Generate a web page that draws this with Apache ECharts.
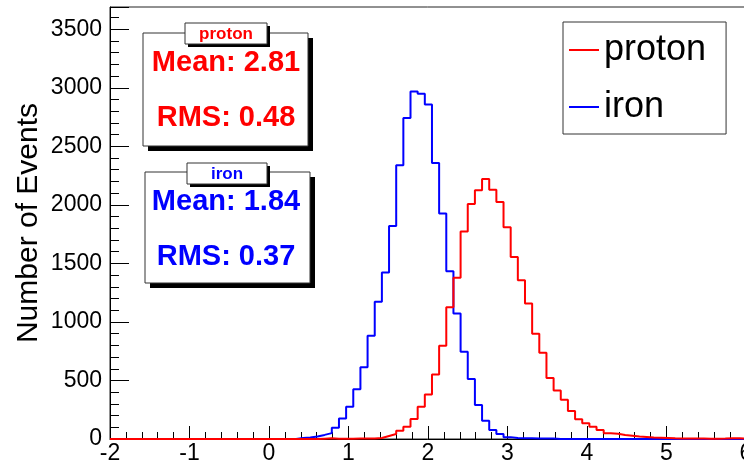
<!DOCTYPE html>
<html>
<head>
<meta charset="utf-8">
<script src="https://cdn.jsdelivr.net/npm/echarts@6/dist/echarts.min.js"></script>
<style>html,body{margin:0;padding:0;background:#fff}#c{width:744px;height:469px}</style>
</head>
<body>
<div id="c"></div>
<script>
// Histogram definition: 100 bins from -2 to 7 (bin width 0.09)
const binLow = -2;
const binWidth = 0.09;
const xTicks = [-2, -1, 0, 1, 2, 3, 4, 5, 6];
const yTicks = [0, 500, 1000, 1500, 2000, 2500, 3000, 3500];

// counts per bin, bins 0..99
const ironCounts = [
  0,0,0,0,0,0,0,0,0,0,
  0,0,0,0,0,0,0,0,0,0,
  0,0,0,0,0,0,8,12,22,35,
  50,97,176,276,424,612,882,1172,1422,1820,
  2338,2742,2969,2950,2858,2358,1926,1433,1072,745,
  512,290,156,77,43,16,8,7,6,5,
  5,4,1,1,0,0,0,0,0,0,
  0,0,0,0,0,0,0,0,0,0,
  0,0,0,0,0,0,0,0,0,0,
  0,0,0,0,0,0,0,0,0,0
];
const protonCounts = [
  0,0,0,0,0,0,0,0,0,0,
  0,0,0,0,0,0,0,0,0,0,
  0,0,0,0,0,0,0,0,0,3,
  6,2,3,3,4,5,4,8,25,42,
  70,105,170,276,380,550,796,1126,1377,1772,
  2008,2125,2221,2130,2025,1808,1555,1355,1158,898,
  737,522,415,336,240,168,134,105,77,49,
  45,34,28,22,18,12,10,8,6,5,
  5,4,4,3,3,4,7,6,3,2,
  2,1,1,1,1,1,1,1,1,1
];

const statsProton = { title: 'proton', mean: '2.81', rms: '0.48' };
const statsIron = { title: 'iron', mean: '1.84', rms: '0.37' };

function toSteps(counts) {
  const pts = counts.map((c, i) => [binLow + i * binWidth, c]);
  pts.push([binLow + counts.length * binWidth, counts[counts.length - 1]]);
  return pts;
}

const FONT = '"Liberation Sans", Arial, Helvetica, sans-serif';
const RED = '#ff0000', BLUE = '#0000ff';

function statsBox(x, y, w, h, tx, ty, tw, th, st, color, meanY, rmsY) {
  return [
    { type: 'rect', shape: { x: x + 5, y: y + 5, width: w, height: h }, style: { fill: '#000' }, z: 100 },
    { type: 'rect', shape: { x: x, y: y, width: w, height: h }, style: { fill: '#fff', stroke: '#333', lineWidth: 1 }, z: 101 },
    { type: 'rect', shape: { x: tx + 3, y: ty + 3, width: tw, height: th }, style: { fill: '#000' }, z: 102 },
    { type: 'rect', shape: { x: tx, y: ty, width: tw, height: th }, style: { fill: '#fff', stroke: '#333', lineWidth: 1 }, z: 103 },
    { type: 'text', z: 104, style: { text: st.title, x: tx + tw / 2, y: ty + th / 2 + 1, align: 'center', verticalAlign: 'middle', fill: color, font: 'bold 17px ' + FONT } },
    { type: 'text', z: 104, style: { text: 'Mean: ' + st.mean, x: 226, y: meanY, align: 'center', verticalAlign: 'middle', fill: color, font: 'bold 29px ' + FONT } },
    { type: 'text', z: 104, style: { text: 'RMS: ' + st.rms, x: 226, y: rmsY, align: 'center', verticalAlign: 'middle', fill: color, font: 'bold 29px ' + FONT } }
  ];
}

const chart = echarts.init(document.getElementById('c'), null, { renderer: 'canvas' });
chart.setOption({
  animation: false,
  backgroundColor: '#fff',
  grid: { left: 110, right: -2, top: 7, bottom: 30, show: true, borderColor: '#222', borderWidth: 1, backgroundColor: 'transparent', containLabel: false, outerBoundsMode: 'none' },
  xAxis: {
    type: 'value', min: xTicks[0], max: xTicks[xTicks.length - 1], interval: 1,
    axisLine: { show: true, onZero: false, lineStyle: { color: '#000', width: 1 } },
    axisTick: { show: true, inside: true, length: 13, lineStyle: { color: '#000' } },
    minorTick: { show: true, splitNumber: 5, length: 7, lineStyle: { color: '#000' } },
    splitLine: { show: false },
    axisLabel: { fontSize: 23, color: '#000', fontFamily: FONT, margin: 3, showMaxLabel: true, showMinLabel: true, hideOverlap: false }
  },
  yAxis: {
    type: 'value', min: yTicks[0], max: 3690, interval: 500,
    name: 'Number of Events', nameLocation: 'middle', nameGap: 66, nameMoveOverlap: false,
    nameTextStyle: { fontSize: 30, color: '#000', fontFamily: FONT },
    axisLine: { show: true, onZero: false, lineStyle: { color: '#000', width: 1 } },
    axisTick: { show: true, inside: true, length: 19, lineStyle: { color: '#000' } },
    minorTick: { show: true, splitNumber: 5, length: 9, lineStyle: { color: '#000' } },
    splitLine: { show: false },
    axisLabel: { fontSize: 23, color: '#000', fontFamily: FONT, margin: 8, showMaxLabel: false,
      formatter: v => (yTicks.indexOf(v) >= 0 ? String(v) : '') }
  },
  legend: {
    orient: 'vertical', left: 563, top: 22,
    data: ['proton', 'iron'],
    icon: 'rect', itemWidth: 30, itemHeight: 2, itemGap: 21,
    backgroundColor: '#fff', borderColor: '#333', borderWidth: 1,
    padding: [10, 20, 9, 6],
    textStyle: { fontSize: 36, color: '#000', fontFamily: FONT }
  },
  series: [
    { name: 'iron', type: 'line', step: 'end', data: toSteps(ironCounts), showSymbol: false, symbol: 'none',
      lineStyle: { color: BLUE, width: 2 }, itemStyle: { color: BLUE }, clip: true, z: 2 },
    { name: 'proton', type: 'line', step: 'end', data: toSteps(protonCounts), showSymbol: false, symbol: 'none',
      lineStyle: { color: RED, width: 2 }, itemStyle: { color: RED }, clip: true, z: 3 }
  ],
  graphic: [].concat(
    statsBox(143, 33, 165, 113, 185, 23, 82, 21, statsProton, RED, 62.5, 118),
    statsBox(145, 172, 165, 111, 187, 163, 80, 21, statsIron, BLUE, 201.5, 257)
  )
});
</script>
</body>
</html>
